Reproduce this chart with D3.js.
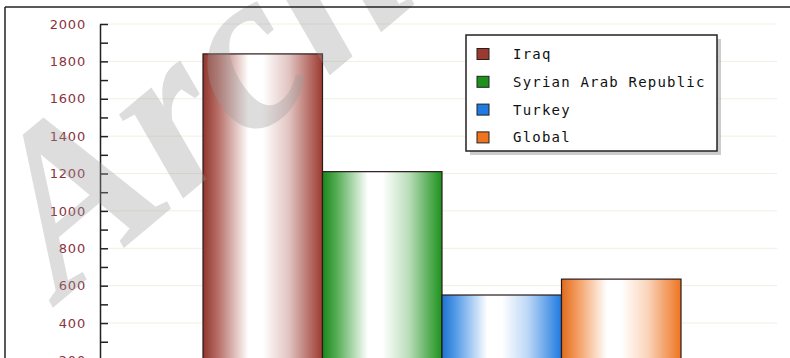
<!DOCTYPE html>
<html lang="en">
<head>
<meta charset="UTF-8">
<title>Bar chart</title>
<script src="https://d3js.org/d3.v7.min.js"></script>
<style>
  body { margin: 0; background: #fff; }
  .tick-label { font-family: "DejaVu Sans", sans-serif; font-size: 13px; fill: #8a3340; letter-spacing: 0.8px; }
  .legend-text { font-family: "DejaVu Sans Mono", monospace; font-size: 14px; fill: #111; letter-spacing: 1.2px; }
</style>
</head>
<body>
<div id="chart"></div>
<script>
// data
const series = ["Iraq", "Syrian Arab Republic", "Turkey", "Global"];
const values = [1840, 1210, 550, 635];
const colors = ["#9c3a30", "#1c921c", "#1f7be0", "#ee7420"];
const yTicks = [0, 200, 400, 600, 800, 1000, 1200, 1400, 1600, 1800, 2000];
const minorTicks = d3.range(0, 2001, 100);

const W = 790, H = 358;

const svg = d3.select("#chart").append("svg")
    .attr("width", W)
    .attr("height", H);

const defs = svg.append("defs");
colors.forEach((c, i) => {
    const g = defs.append("linearGradient")
        .attr("id", "grad" + i)
        .attr("x1", "0%").attr("x2", "100%")
        .attr("y1", "0%").attr("y2", "0%");
    const light = d3.interpolateRgb(c, "#fff");
    g.append("stop").attr("offset", "0%").attr("stop-color", d3.color(c).darker(0.2));
    g.append("stop").attr("offset", "12%").attr("stop-color", light(0.25));
    g.append("stop").attr("offset", "38%").attr("stop-color", "#fff");
    g.append("stop").attr("offset", "50%").attr("stop-color", "#fff");
    g.append("stop").attr("offset", "72%").attr("stop-color", light(0.7));
    g.append("stop").attr("offset", "100%").attr("stop-color", c);
});

const y = d3.scaleLinear().domain([0, 2000]).range([397.8, 24]);
const x = d3.scaleBand().domain(series).range([203, 681]).padding(0);

// grid lines
svg.append("g")
    .selectAll("line")
    .data(yTicks)
    .join("line")
    .attr("x1", 100).attr("x2", 777)
    .attr("y1", d => y(d)).attr("y2", d => y(d))
    .attr("stroke", "#f1efe2")
    .attr("stroke-width", 1);

// bars
svg.append("g")
    .selectAll("rect")
    .data(series)
    .join("rect")
    .attr("x", d => x(d))
    .attr("y", (d, i) => y(values[i]))
    .attr("width", x.bandwidth())
    .attr("height", (d, i) => y(0) - y(values[i]))
    .attr("fill", (d, i) => "url(#grad" + i + ")")
    .attr("stroke", "#2a1a1a")
    .attr("stroke-width", 1.2);

// axis with minor ticks
const axis = svg.append("g")
    .attr("transform", "translate(100,0)")
    .call(d3.axisRight(y).tickValues(minorTicks).tickSize(8).tickSizeOuter(0).tickFormat(""));
axis.selectAll("line, path").attr("stroke", "#222").attr("stroke-width", 1.5);

svg.append("g")
    .selectAll("text")
    .data(yTicks)
    .join("text")
    .attr("class", "tick-label")
    .attr("x", 86)
    .attr("y", d => y(d))
    .attr("dy", "0.36em")
    .attr("text-anchor", "end")
    .text(d => d);

// legend
const lg = svg.append("g").attr("transform", "translate(466,35)");
lg.append("rect")
    .attr("x", 4).attr("y", 4)
    .attr("width", 251).attr("height", 116)
    .attr("fill", "#aaa").attr("opacity", 0.6);
lg.append("rect")
    .attr("width", 251).attr("height", 116)
    .attr("fill", "#fff")
    .attr("stroke", "#222").attr("stroke-width", 1.5);
const item = lg.selectAll("g.item")
    .data(series)
    .join("g")
    .attr("class", "item")
    .attr("transform", (d, i) => `translate(0,${19 + i * 27.8})`);
item.append("rect")
    .attr("x", 11).attr("y", -5.5)
    .attr("width", 12).attr("height", 11)
    .attr("fill", (d, i) => colors[i])
    .attr("stroke", "#222").attr("stroke-width", 1);
item.append("text")
    .attr("class", "legend-text")
    .attr("x", 47)
    .attr("dy", "0.36em")
    .text(d => d);

// watermark
svg.append("text")
    .attr("transform", "translate(62,300) rotate(-40)")
    .attr("font-family", "Liberation Serif")
    .attr("font-weight", "bold")
    .attr("font-style", "italic")
    .attr("font-size", 230)
    .attr("fill", "#999")
    .attr("opacity", 0.33)
    .text("Archive");

// frame
svg.append("line").attr("x1", 5).attr("x2", W).attr("y1", 7).attr("y2", 7)
    .attr("stroke", "#222").attr("stroke-width", 1.5);
svg.append("line").attr("x1", 5).attr("x2", 5).attr("y1", 7).attr("y2", H)
    .attr("stroke", "#222").attr("stroke-width", 1.5);
</script>
</body>
</html>
